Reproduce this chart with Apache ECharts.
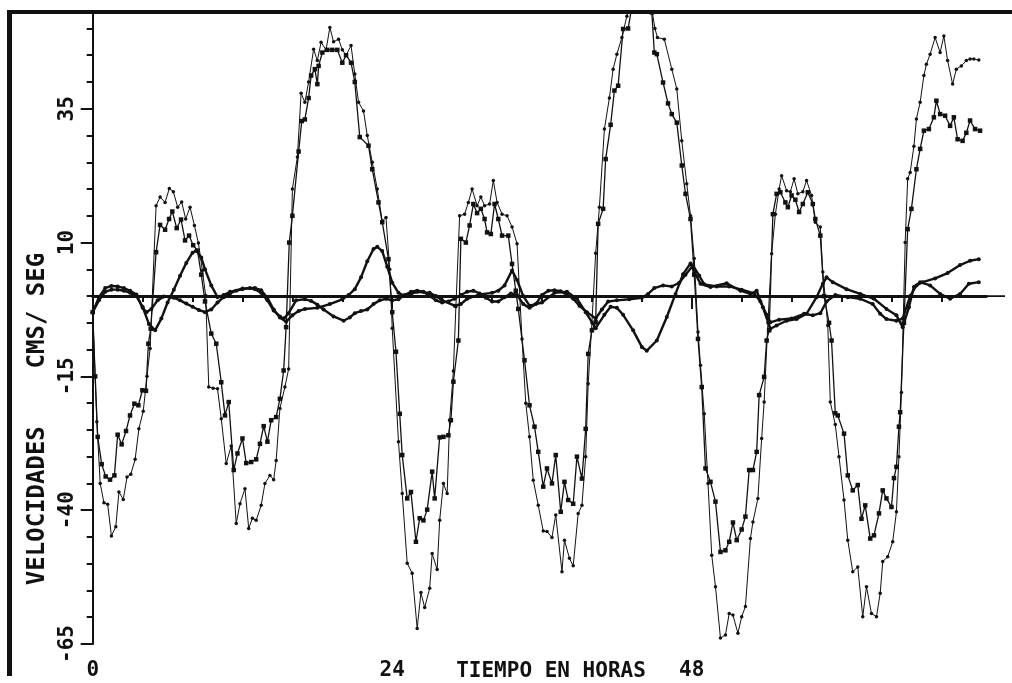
<!DOCTYPE html>
<html>
<head>
<meta charset="utf-8">
<script src="https://cdn.jsdelivr.net/npm/echarts@6/dist/echarts.min.js"></script>
<style>
  html, body { margin: 0; padding: 0; background: #fff; }
  #chart { width: 1012px; height: 683px; }
</style>
</head>
<body>
<div id="chart"></div>
<script>
// hour / velocity (cm/s) pairs
var medidor1 = [
  [0,-3],[0.33,-23.5],[0.6,-35],[0.9,-38.6],[1.2,-38.9],[1.5,-44.8],[1.85,-43.1],[2.1,-36.6],[2.45,-38],[2.75,-33.8],
  [3.05,-33.3],[3.4,-30.5],[3.7,-24.8],[4.05,-21.5],[4.35,-15],[4.6,-9.8],[5.08,16.9],[5.4,18.5],[5.8,17.5],[6.14,20.1],
  [6.46,19.5],[6.81,16.6],[7.13,17.6],[7.45,14.4],[7.8,16.6],[8.15,13.2],[8.47,9.9],[8.79,4.8],[9.05,0.1],[9.3,-17],
  [9.65,-17.2],[10,-17.3],[10.3,-22.9],[10.7,-31.3],[11.1,-28],[11.5,-42.5],[11.8,-38.8],[12.2,-36],[12.5,-43.4],[12.8,-41.5],
  [13.1,-41.9],[13.5,-39.1],[13.8,-35],[14.2,-33.5],[14.5,-34.3],[14.7,-30.7],[15,-21],[15.4,-17],[15.7,-13.6],[16,20],
  [16.4,26],[16.7,37.9],[17,36.2],[17.3,40],[17.7,46.1],[18,44],[18.3,47.4],[18.7,46],[19,50.2],[19.3,47.5],
  [19.7,48],[20,46],[20.3,45],[20.7,46.8],[21,41.5],[21.3,36.2],[21.7,34.6],[22,30],[22.4,25],[22.8,20],
  [23.2,14],[23.5,14.7],[23.8,5],[24,-6],[24.5,-27.2],[24.8,-36.9],[25.2,-49.9],[25.6,-51.8],[26,-62.1],[26.3,-55.4],
  [26.6,-58.2],[27,-54.6],[27.2,-48.1],[27.6,-51.1],[27.8,-41.9],[28.1,-35],[28.4,-36.9],[28.6,-23.2],[28.9,-14],[29.1,-2],
  [29.4,15],[29.8,15.3],[30.1,17.5],[30.4,20],[30.8,16.9],[31.1,18.5],[31.4,16.9],[31.8,17.2],[32.1,21.6],[32.4,17.5],
  [32.8,15.3],[33.2,15],[33.6,12.9],[34,9.8],[34.4,-8],[34.7,-20],[35,-26.3],[35.3,-34.4],[35.7,-39.1],[36.1,-43.9],
  [36.4,-44],[36.8,-45.1],[37.1,-40.9],[37.6,-51.5],[37.8,-45.6],[38.2,-49],[38.5,-50.4],[38.9,-40.6],[39.2,-39.1],[39.5,-30],
  [39.7,-16.4],[40,-5],[40.3,8],[40.6,16.6],[41,31.2],[41.4,37],[41.7,42.4],[42,45.2],[42.4,48.3],[42.8,52.3],
  [43.1,55],[43.5,57],[43.9,56],[44.3,57.5],[44.7,55],[45.05,50],[45.25,48.3],[45.8,48],[46.4,42.4],[46.8,38.7],
  [47.2,29],[47.6,21],[47.9,15],[48.2,7],[48.5,-6.7],[48.7,-12.9],[49,-22],[49.3,-35],[49.6,-48.4],[49.9,-54.3],
  [50.3,-63.9],[50.7,-63.3],[51,-59.3],[51.3,-59.6],[51.7,-63],[52,-59.9],[52.3,-58],[52.7,-45.3],[52.9,-42.2],[53.3,-37.8],
  [53.6,-26.6],[53.8,-19.8],[54.1,-5],[54.4,7.9],[54.7,15.3],[55,20],[55.2,22.5],[55.6,19.7],[55.9,19.5],[56.2,21.9],
  [56.5,19.1],[56.9,19.5],[57.2,21.6],[57.6,18.8],[57.9,13.8],[58.3,12.9],[58.5,4.5],[58.9,-5.5],[59.1,-19.8],[59.5,-24],
  [59.8,-30],[60.2,-38.1],[60.5,-45.6],[60.9,-51.5],[61.3,-50.6],[61.7,-59.9],[62,-54.3],[62.4,-59.3],[62.8,-59.9],[63.1,-55.5],
  [63.3,-49.6],[63.7,-48.7],[64.1,-45.9],[64.4,-40.3],[64.6,-30],[64.8,-18],[65.1,10],[65.3,21.9],[65.5,23.1],[65.8,28],
  [66,33.1],[66.3,36.2],[66.6,41.2],[66.8,43.3],[67.1,45.2],[67.5,48.3],[67.9,45.5],[68.2,48.6],[68.5,44],[68.9,39.6],
  [69.2,42.4],[69.6,43],[70,44],[70.3,44.3],[70.6,44.3],[71,44.1]
];

var medidor2 = [
  [0,-3],[0.2,-15],[0.4,-26.3],[0.72,-31.4],[1.04,-33.7],[1.39,-34.3],[1.74,-33.5],[2,-25.9],[2.32,-27.7],[2.67,-25.2],
  [2.99,-22.3],[3.34,-20.1],[3.66,-20.4],[3.98,-17.6],[4.27,-17.7],[4.46,-8.9],[4.65,-6.1],[5.08,8.2],[5.4,13.3],[5.8,12.4],
  [6.12,14.4],[6.38,15.8],[6.73,12.7],[7.08,14.3],[7.4,10.4],[7.72,11.3],[8.05,9.5],[8.4,8.5],[8.7,4],[9,-1],
  [9.5,-7],[9.9,-8.9],[10.3,-16.1],[10.6,-22.3],[10.9,-19.8],[11.3,-32.5],[11.6,-29.4],[12,-26.6],[12.3,-31.2],[12.7,-31],
  [13.1,-30.5],[13.4,-27.6],[13.7,-24.3],[14,-27.2],[14.3,-23.2],[14.7,-22.6],[15,-19.2],[15.3,-13.9],[15.5,-5.8],[15.75,10],
  [16,15],[16.5,27],[16.75,32.7],[17,33],[17.3,37],[17.5,41.2],[17.8,42.4],[18,39.6],[18.1,43],[18.4,45.5],
  [18.8,46],[19.2,46],[19.6,46],[20,43.6],[20.3,45],[20.7,43.6],[21,40],[21.4,29.7],[22.1,28.1],[22.4,23.7],
  [22.9,17.5],[23.2,13.8],[23.7,6.9],[24,-3],[24.3,-10.4],[24.6,-22],[24.8,-29.7],[25.2,-37.8],[25.5,-36.6],[25.9,-45.9],
  [26.2,-41.5],[26.5,-41.9],[26.8,-39.9],[27.2,-32.8],[27.4,-37.8],[27.8,-26.4],[28.1,-26.3],[28.5,-26],[28.7,-23.2],[28.9,-16],
  [29.3,-8.3],[29.5,10.7],[29.9,10],[30.2,13.2],[30.5,17.2],[30.8,15.5],[31.1,16.3],[31.4,14.4],[31.6,11.9],[31.9,11.6],
  [32.2,17.2],[32.5,14.4],[32.8,11.3],[33.3,11.3],[33.6,6],[33.9,1],[34.1,-2.4],[34.6,-12],[35,-20.4],[35.4,-24.4],
  [35.7,-29.1],[36.1,-35.6],[36.4,-32.2],[36.8,-35],[37.1,-29.7],[37.5,-40.3],[37.8,-34.7],[38.1,-38.1],[38.5,-38.8],[38.8,-30],
  [39.2,-34.1],[39.5,-24.8],[39.7,-10.8],[40,-6.4],[40.3,-4.9],[40.5,13.5],[40.9,16.3],[41.1,25.6],[41.5,32],[41.8,38.4],
  [42.1,39.3],[42.5,49.9],[42.9,50],[43.2,54],[43.6,56],[44,54.5],[44.4,56],[44.8,53],[45,45.5],[45.2,45.2],
  [45.7,39.9],[46.1,36],[46.4,34],[46.8,32.4],[47.2,24.4],[47.5,19.1],[47.9,14.4],[48.2,4],[48.5,-8],[48.8,-17],
  [49.1,-32.2],[49.5,-34.7],[49.9,-38.4],[50.3,-47.8],[50.7,-47.5],[51,-45.9],[51.3,-42.3],[51.6,-45.6],[52,-43.6],[52.3,-41.2],
  [52.6,-32.5],[52.9,-32.5],[53.2,-29.1],[53.4,-18.5],[53.8,-15.1],[54,-8.3],[54.2,-6.4],[54.5,15.3],[54.8,19.1],[55.1,19.4],
  [55.5,17.5],[55.7,16.6],[56,18.8],[56.3,18],[56.6,15.7],[56.9,17.2],[57.3,19.4],[57.7,17.2],[57.9,14.4],[58.3,11.3],
  [58.6,0],[59,-5],[59.2,-8.3],[59.5,-21.9],[59.7,-22.3],[60.2,-25.7],[60.5,-33.5],[60.9,-36.3],[61.3,-35.3],[61.6,-41.6],
  [61.9,-39.1],[62.3,-45.3],[62.6,-44.7],[63,-40.6],[63.3,-36.3],[63.6,-37.8],[64,-39.4],[64.2,-34],[64.4,-31.9],[64.6,-24.4],
  [64.7,-21.7],[65,-5],[65.3,12.5],[65.6,16.3],[66,23.7],[66.3,27.5],[66.6,30.9],[67,31.2],[67.4,33.4],[67.6,36.5],
  [67.9,34],[68.3,33.7],[68.7,31.8],[69,33.4],[69.3,29.3],[69.7,29],[70,30.5],[70.3,32.8],[70.7,31.2],[71.1,30.9]
];

var medidor3 = [
  [0,-3],[0.5,-0.8],[1,0.8],[1.5,1.2],[2,1.2],[2.5,1],[3,0.6],[3.5,0],[4,-2],[4.5,-5.2],
  [5,-6.4],[5.5,-4.2],[6,-1.2],[6.5,1.2],[7,3.8],[7.5,6.2],[8,8.1],[8.3,8.5],[8.7,7.2],[9,5],
  [9.5,2],[10,-0.2],[10.5,0.2],[11,0.8],[12,1.4],[13,1.5],[13.5,1.1],[14,-0.3],[14.5,-2.5],[15,-4],
  [15.5,-4.8],[16,-3.6],[16.5,-2.8],[17,-2.4],[18,-2.2],[19,-1.5],[20,-0.6],[20.5,0.2],[21,1.3],[21.5,3.5],
  [22,6.5],[22.5,8.8],[22.8,9.2],[23.2,8.4],[23.6,5.5],[24,2.5],[24.5,0.6],[25,0],[25.5,0.4],[26,0.8],
  [27,0.6],[27.5,0],[28,-0.8],[29,-1.8],[29.5,-1.5],[30,-0.5],[31,0.3],[32,0.6],[32.5,1],[33,2],
  [33.6,4.8],[34,3],[34.5,0],[35,-1.8],[36,-1.2],[37,0.6],[38,0.8],[38.8,-0.5],[39.5,-3],[40.3,-6],
  [41,-3.5],[41.5,-2],[42,-2.2],[42.5,-3.5],[43.3,-6.4],[44,-9.5],[44.4,-10.2],[45.2,-8.3],[46,-3.9],[46.7,0.4],
  [47.3,4.1],[47.9,6.1],[48.2,4.5],[48.7,2.3],[49.5,1.7],[50.8,2.4],[51.9,1],[52.7,0.4],[53.2,1],[53.7,-2.1],
  [54.3,-6.1],[54.8,-5.5],[55.6,-4.6],[56.4,-4.3],[57.2,-3.3],[58,-0.2],[58.5,2.3],[58.8,3.5],[59.3,2.6],[60.4,1.3],
  [61.5,0.4],[62.6,-0.5],[63.6,-2.4],[64.4,-3.6],[64.9,-5.8],[65.4,-2.1],[65.8,1.7],[66.3,2.6],[67.1,2],[67.9,0.4],
  [68.7,-0.5],[69.5,0.4],[70.2,2.3],[71,2.6]
];

var medidor4 = [
  [0,-3],[0.5,-0.2],[1,1.5],[1.5,1.9],[2,1.8],[2.5,1.5],[3,1],[3.5,0.3],[4,-2.2],[4.3,-3],
  [4.7,-2.4],[5.2,-0.8],[5.7,-0.1],[6.5,-0.3],[7,-0.8],[7.5,-1.4],[8,-2],[8.5,-2.6],[9,-3],[9.5,-2.5],
  [10,-1.2],[10.5,-0.2],[11,0.5],[11.5,1],[12,1.3],[12.6,1.5],[13,1.3],[13.5,0.6],[14,-0.8],[14.5,-2.7],
  [15,-3.8],[15.3,-4.2],[15.7,-3.2],[16.3,-0.8],[17,-0.6],[17.5,-0.9],[18,-1.6],[18.5,-2.5],[19.3,-3.8],[20.1,-4.6],
  [20.6,-4],[21,-3.2],[21.5,-2.8],[22,-2.5],[22.5,-1.5],[23,-0.8],[23.5,-0.5],[24,-0.8],[24.5,-0.6],[25,0.2],
  [25.5,0.8],[26,1],[26.5,0.8],[27,0],[27.5,-0.8],[28,-1.2],[28.5,-1],[29,-0.5],[29.5,0.2],[30,0.8],
  [30.5,1],[31,0.5],[31.5,-0.3],[32,-1],[32.5,-1],[33,-0.2],[33.5,0.5],[34,0.2],[34.5,-1.5],[35,-2.2],
  [35.5,-1.5],[36,0.2],[36.5,1],[37,1.1],[37.5,0.9],[38,0.2],[38.5,-0.5],[39,-1.8],[39.6,-3],[40.3,-4.2],
  [40.8,-2.5],[41.3,-1],[42,-0.8],[43,-0.6],[44,-0.3],[44.5,0.4],[45,1.5],[45.7,2],[46.4,1.8],[47,2.5],
  [47.5,4],[48.1,5.7],[48.6,3.8],[49,2.2],[50,1.8],[51,1.8],[52,1.2],[53,0.5],[53.5,-1],[54,-3.5],
  [54.3,-4.9],[55,-4.4],[56,-4.2],[57,-3.3],[57.7,-3.6],[58.3,-3.2],[58.8,-1],[59.5,0.2],[60.5,-0.2],[61.5,-0.5],
  [62.5,-1.5],[63.1,-3.3],[63.6,-4.3],[64.4,-4.6],[64.9,-4.2],[65.5,0],[66,2],[66.5,2.6],[67.5,3.3],[68.5,4.3],
  [69.5,5.8],[70.3,6.6],[71,6.9]
];

var horasMenores = [0,4,8,12,16,20,24,28,32,36,40,44,48,52,56,60,64,68];
var horasEtiqueta = [0,24,48];
var velMenores = [-65,-60,-55,-50,-45,-40,-35,-30,-25,-20,-15,-10,-5,0,5,10,15,20,25,30,35,40,45,50];
var velEtiqueta = [-65,-40,-15,10,35];
var lineaCero = [[0,0],[1,0]];

var X_MAX = 71.6, Y_MIN = -65, Y_MAX = 53;
var INK = '#111';
var FONT = 'DejaVu Sans Mono';

var chart = echarts.init(document.getElementById('chart'));

function serie(nombre, datos, simbolo, tam, ancho) {
  return {
    name: nombre,
    type: 'line',
    xAxisIndex: 0,
    yAxisIndex: 0,
    data: datos,
    symbol: simbolo,
    symbolSize: tam,
    showSymbol: true,
    lineStyle: { color: INK, width: ancho },
    itemStyle: { color: INK, borderWidth: 0 },
    clip: true
  };
}

var option = {
  animation: false,
  backgroundColor: '#fff',
  grid: [
    { left: 92.7, right: 25.7, top: 12.4, bottom: 39 },
    { left: 92.7, right: 7, top: 12.4, bottom: 39 }
  ],
  xAxis: [
    {
      type: 'value', gridIndex: 0, position: 'bottom', min: 0, max: X_MAX,
      axisLine: { lineStyle: { color: INK, width: 3 } },
      axisTick: { show: true, inside: false, customValues: horasMenores, length: 6, lineStyle: { color: INK, width: 2 } },
      axisLabel: { show: false },
      splitLine: { show: false }
    },
    {
      type: 'value', gridIndex: 0, position: 'bottom', min: 0, max: X_MAX,
      axisLine: { show: false },
      axisTick: { show: true, customValues: horasEtiqueta, length: 13, lineStyle: { color: INK, width: 2 } },
      axisLabel: {
        customValues: horasEtiqueta, margin: 16, color: INK,
        fontFamily: FONT, fontSize: 21, fontWeight: 'bold',
        formatter: function (v) { return String(v); }
      },
      splitLine: { show: false }
    },
    { type: 'value', gridIndex: 1, min: 0, max: 1, show: false }
  ],
  yAxis: [
    {
      type: 'value', gridIndex: 0, position: 'left', min: Y_MIN, max: Y_MAX,
      axisLine: { show: true, lineStyle: { color: INK, width: 2 } },
      axisTick: { show: true, customValues: velMenores, length: 6, lineStyle: { color: INK, width: 2 } },
      axisLabel: { show: false },
      splitLine: { show: false }
    },
    {
      type: 'value', gridIndex: 0, position: 'left', min: Y_MIN, max: Y_MAX,
      axisLine: { show: false },
      axisTick: { show: true, customValues: velEtiqueta, length: 12, lineStyle: { color: INK, width: 2 } },
      axisLabel: {
        customValues: velEtiqueta, rotate: 90, margin: 15, color: INK,
        fontFamily: FONT, fontSize: 21, fontWeight: 'bold'
      },
      splitLine: { show: false }
    },
    { type: 'value', gridIndex: 1, min: Y_MIN, max: Y_MAX, show: false }
  ],
  graphic: [
    { type: 'rect', shape: { x: 7, y: 10, width: 1005, height: 4 }, style: { fill: INK } },
    { type: 'rect', shape: { x: 7, y: 10, width: 5, height: 666 }, style: { fill: INK } },
    {
      type: 'text', x: 551, y: 672,
      style: { text: 'TIEMPO EN HORAS', font: 'bold 21px "DejaVu Sans Mono"', fill: INK,
               align: 'center', verticalAlign: 'middle', textAlign: 'center', textVerticalAlign: 'middle' }
    },
    {
      type: 'text', x: 38, y: 419, rotation: Math.PI / 2,
      style: { text: 'VELOCIDADES    CMS/ SEG', font: 'bold 24px "DejaVu Sans Mono"', fill: INK,
               align: 'center', verticalAlign: 'middle', textAlign: 'center', textVerticalAlign: 'middle' }
    }
  ],
  series: [
    {
      name: 'cero', type: 'line', xAxisIndex: 2, yAxisIndex: 2, data: lineaCero,
      showSymbol: false, symbol: 'none', lineStyle: { color: INK, width: 1.6 }
    },
    serie('medidor3', medidor3, 'circle', 4, 2.4),
    serie('medidor4', medidor4, 'circle', 4, 2.4),
    serie('medidor2', medidor2, 'rect', 4.5, 1.3),
    serie('medidor1', medidor1, 'circle', 3.5, 1)
  ]
};

chart.setOption(option);
</script>
</body>
</html>
